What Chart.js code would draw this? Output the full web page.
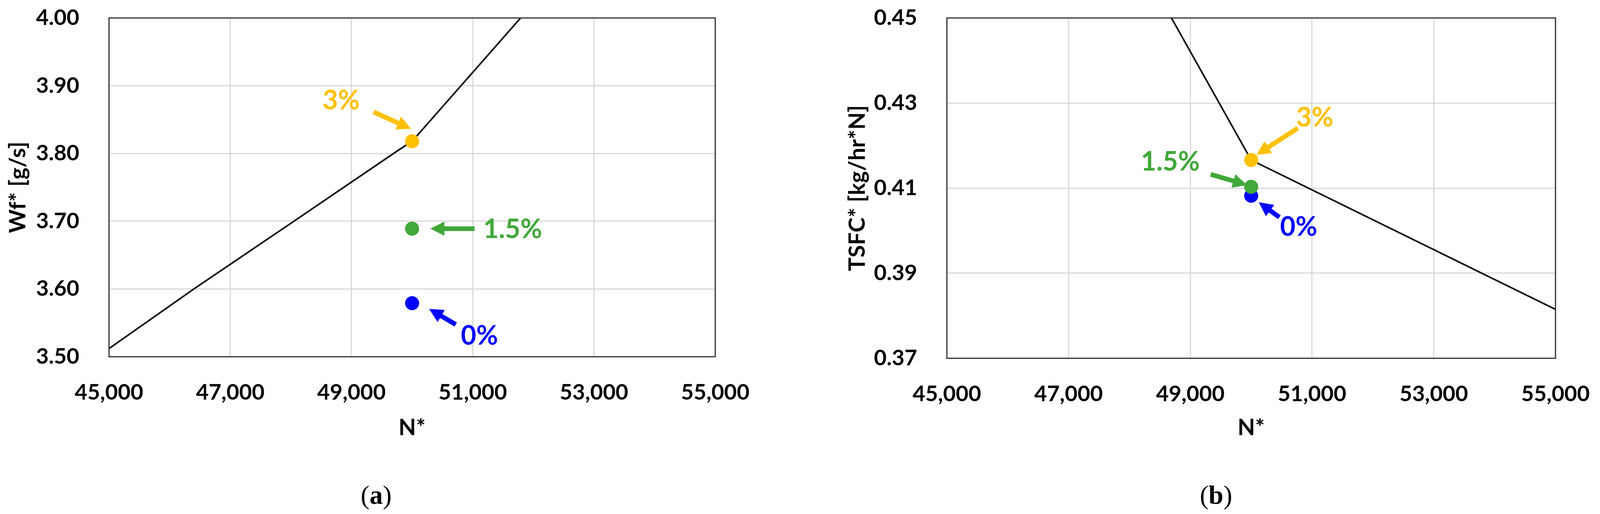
<!DOCTYPE html>
<html>
<head>
<meta charset="utf-8">
<script src="https://cdn.jsdelivr.net/npm/chart.js@4.4.1/dist/chart.umd.min.js"></script>
<style>
  body { margin: 0; background: #fff; width: 4096px; height: 1317px; position: relative; overflow: hidden; }
  .box { position: absolute; top: 0; }
  .cap { position: absolute; width: 200px; text-align: center; font-family: "Liberation Serif", serif; font-size: 68px; line-height: 70px; color: #000; }
</style>
</head>
<body>
<div class="box" style="left:0px"><canvas id="chartA" width="1980" height="1140"></canvas></div>
<div class="box" style="left:2145px"><canvas id="chartB" width="1951" height="1140"></canvas></div>
<div class="cap" style="left:863px; top:1233px">(<b>a</b>)</div>
<div class="cap" style="left:3013px; top:1233px">(<b>b</b>)</div>
<script>
// N* axis ticks
const nTicks = [45000, 47000, 49000, 51000, 53000, 55000];

// operating line, chart (a)
const nLineA = [45000, 46400, 48050, 49760, 50000, 51790];
const wfLine = [3.512, 3.600, 3.700, 3.804, 3.818, 4.000];

// operating line, chart (b)
const nLineB = [48690, 50000, 55000];
const tsfcLine = [0.450, 0.4166, 0.3815];

// bleed cases at N* = 50,000
const cases = ['0%', '1.5%', '3%'];
const caseN = [50000, 50000, 50000];
const wfCases = [3.579, 3.689, 3.818];
const tsfcCases = [0.4082, 0.4103, 0.4166];
const caseColors = ['#0000ff', '#41a83a', '#ffc000'];

// arrow labels, in data units: [label x, label y, tail x, tail y, tip x, tip y]
const notesA = [
  [51110, 3.5305, 50720, 3.5475, 50280, 3.5706],
  [51660, 3.688, 51030, 3.689, 50300, 3.689],
  [48830, 3.8776, 49365, 3.8613, 49981, 3.8364]
];
const notesB = [
  [50780, 0.40083, 50463, 0.40315, 50124, 0.40667],
  [48672, 0.41615, 49335, 0.41324, 49930, 0.41073],
  [51045, 0.42647, 50766, 0.42410, 50087, 0.41783]
];

Chart.defaults.font.family = 'Lato';
Chart.defaults.font.weight = 'bold';
Chart.defaults.color = '#000';

// plot area border
const frame = {
  id: 'frame',
  afterDatasetsDraw(chart) {
    const a = chart.chartArea;
    const ctx = chart.ctx;
    ctx.save();
    ctx.strokeStyle = '#333';
    ctx.lineWidth = 3;
    ctx.strokeRect(a.left, a.top, a.right - a.left, a.bottom - a.top);
    ctx.restore();
  }
};

// block arrows and their % labels
const arrows = {
  id: 'arrows',
  afterDatasetsDraw(chart, args, opts) {
    const ctx = chart.ctx;
    const xs = chart.scales.x, ys = chart.scales.y;
    ctx.save();
    opts.notes.forEach((n, i) => {
      ctx.fillStyle = caseColors[i];
      const x0 = xs.getPixelForValue(n[2]), y0 = ys.getPixelForValue(n[3]);
      const x1 = xs.getPixelForValue(n[4]), y1 = ys.getPixelForValue(n[5]);
      const len = Math.hypot(x1 - x0, y1 - y0);
      const ux = (x1 - x0) / len, uy = (y1 - y0) / len;
      const px = -uy, py = ux;
      const hl = 36, hw = 18, sw = 6;
      const bx = x1 - ux * hl, by = y1 - uy * hl;
      ctx.beginPath();
      ctx.moveTo(x0 + px * sw, y0 + py * sw);
      ctx.lineTo(bx + px * sw, by + py * sw);
      ctx.lineTo(bx + px * hw, by + py * hw);
      ctx.lineTo(x1, y1);
      ctx.lineTo(bx - px * hw, by - py * hw);
      ctx.lineTo(bx - px * sw, by - py * sw);
      ctx.lineTo(x0 - px * sw, y0 - py * sw);
      ctx.closePath();
      ctx.fill();
      ctx.font = 'bold 68px Lato';
      ctx.textAlign = 'center';
      ctx.textBaseline = 'middle';
      ctx.fillText(cases[i], xs.getPixelForValue(n[0]), ys.getPixelForValue(n[1]));
    });
    ctx.restore();
  }
};

// keep chart.js from adding its own label overflow padding
const noPad = s => { s.paddingTop = 0; s.paddingBottom = 0; s.paddingLeft = 0; s.paddingRight = 0; };

function makeChart(id, nLine, yLine, yCases, yMin, yMax, yStep, yTitle, xHeight, padRight, titlePad, notes) {
  const datasets = [{
    type: 'line',
    data: nLine.map((n, i) => ({x: n, y: yLine[i]})),
    borderColor: '#000',
    borderWidth: 4,
    pointRadius: 0,
    tension: 0,
    order: 4
  }];
  cases.forEach((c, i) => {
    datasets.push({
      type: 'scatter',
      label: c,
      data: [{x: caseN[i], y: yCases[i]}],
      backgroundColor: caseColors[i],
      borderColor: caseColors[i],
      pointRadius: 18,
      pointBorderWidth: 0,
      order: 3 - i
    });
  });
  return new Chart(document.getElementById(id), {
    type: 'scatter',
    data: {datasets},
    plugins: [frame, arrows],
    options: {
      responsive: false,
      animation: false,
      layout: {padding: {top: 46, right: padRight, bottom: 0, left: 0}},
      plugins: {legend: {display: false}, tooltip: {enabled: false}, arrows: {notes}},
      scales: {
        x: {
          type: 'linear',
          min: 45000, max: 55000,
          afterBuildTicks: s => { s.ticks = nTicks.map(v => ({value: v})); },
          afterFit: s => { s.height = xHeight; noPad(s); },
          ticks: {font: {size: 56}, padding: 58, callback: v => v.toLocaleString('en-US')},
          grid: {color: '#d9d9d9', lineWidth: 3, drawTicks: false},
          border: {display: false},
          title: {display: true, text: 'N*', font: {size: 58}, padding: {top: 0, bottom: 9}}
        },
        y: {
          min: yMin, max: yMax,
          afterFit: s => { s.width = 279; noPad(s); },
          ticks: {stepSize: yStep, font: {size: 56}, padding: 76, callback: v => v.toFixed(2)},
          grid: {color: '#d9d9d9', lineWidth: 3, drawTicks: false},
          border: {display: false},
          title: {display: true, text: yTitle, font: {size: 58}, padding: {top: titlePad, bottom: 0}}
        }
      }
    }
  });
}

document.fonts.load('bold 56px Lato').then(() => {
  makeChart('chartA', nLineA, wfLine, wfCases, 3.5, 4.0, 0.1, 'Wf* [g/s]', 226, 149, 11, notesA);
  makeChart('chartB', nLineB, tsfcLine, tsfcCases, 0.37, 0.45, 0.02, 'TSFC* [kg/hr*N]', 222, 114, 15, notesB);
});
</script>
</body>
</html>
